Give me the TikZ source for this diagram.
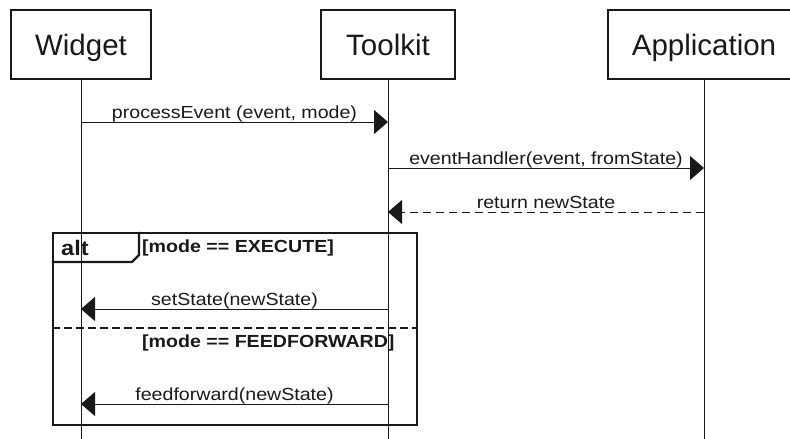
\documentclass[tikz,border=0pt]{standalone}
\usepackage{fontspec}
\setmainfont{Liberation Sans}
\newfontfamily\msgfont[FakeStretch=1.12]{Liberation Sans}
\usetikzlibrary{arrows.meta}
\tikzset{
	lifebox/.style={draw, line width=1.2pt, minimum height=69pt, inner sep=0pt, text height=22pt, text depth=0pt, font=\fontsize{29.5}{30}\selectfont},
	lifeline/.style={line width=1pt},
	msg/.style={line width=1pt, -{Triangle[length=14pt, width=24pt]}},
	reply/.style={msg, dash pattern=on 8pt off 5pt},
	msglabel/.style={font=\msgfont\fontsize{17.5}{18}\selectfont, inner sep=0pt, anchor=base, yshift=4pt},
	guard/.style={font=\msgfont\bfseries\fontsize{17.5}{18}\selectfont, inner sep=0pt, anchor=base west},
	altframe/.style={draw, line width=2.2pt, inner sep=0pt},
}

\begin{document}
\begin{tikzpicture}[x=1pt, y=-1pt, color=black!90]
		%%%%% START %%%%%
		\useasboundingbox (0, 0) rectangle (790, 439);
		
		\node[lifebox, minimum width=140pt] (widget) at (81, 44.5) {Widget};
		\node[lifebox, minimum width=134pt] (toolkit) at (388, 44.5) {Toolkit};
		\node[lifebox, minimum width=192pt] (app) at (704, 44.5) {Application};
		
		\coordinate (bottom) at (0, 439);
		\draw[lifeline] (widget) -- (widget |- bottom);
		\draw[lifeline] (toolkit) -- (toolkit |- bottom);
		\draw[lifeline] (app) -- (app |- bottom);
		
		\draw[msg] (widget |- 0, 122) -- node[msglabel] {processEvent (event, mode)} (toolkit |- 0, 122);
		\draw[msg] (toolkit |- 0, 168) -- node[msglabel] {eventHandler(event, fromState)} (app |- 0, 168);
		\draw[reply] (app |- 0, 212) -- node[msglabel] {return newState} (toolkit |- 0, 212);
		
		\node[altframe, minimum width=364pt, minimum height=192pt] (alt) at (235, 329) {};
		\draw[line width=2.2pt] (alt.north west |- 0, 262) -- (132, 262) -- (139, 255) -- (alt.north -| 139, 0);
		\node[guard, font=\msgfont\bfseries\fontsize{21}{22}\selectfont] (altname) at (61, 255) {alt};
		\node[guard] (execute) at (142, 252) {[mode == EXECUTE]};
		\draw[line width=2pt, dash pattern=on 8pt off 4pt] (alt.west |- 0, 328) -- (alt.east |- 0, 328);
		\node[guard] (feedfwd) at (142, 347) {[mode == FEEDFORWARD]};
		
		\draw[msg] (toolkit |- 0, 309) -- node[msglabel] {setState(newState)} (widget |- 0, 309);
		\draw[msg] (toolkit |- 0, 404) -- node[msglabel] {feedforward(newState)} (widget |- 0, 404);
		
		%%%%% END %%%%%
\end{tikzpicture}
\end{document}
